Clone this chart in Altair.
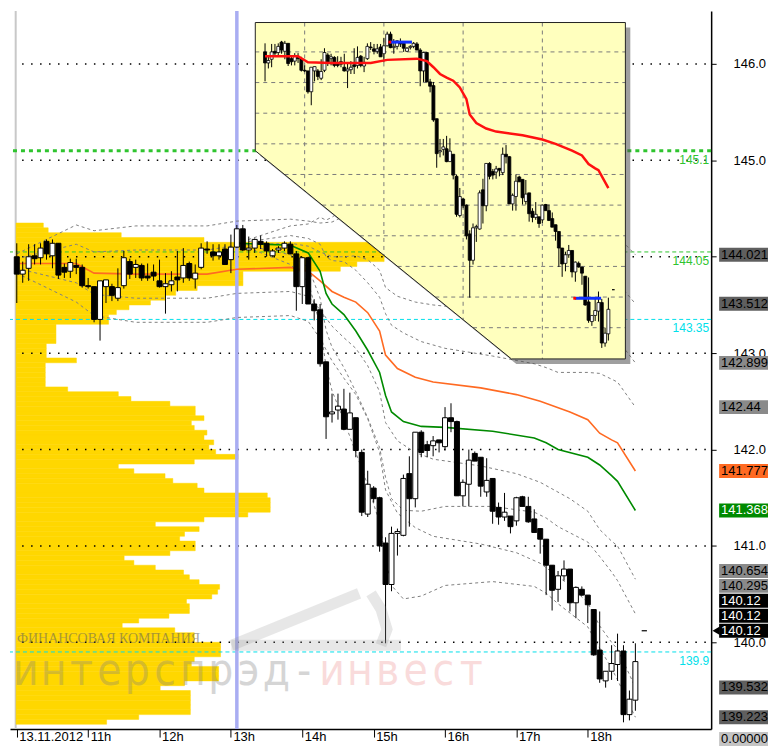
import altair as alt
import numpy as np
import pandas as pd

# ---------------- data ----------------
BAR_MINUTES = 5          # 5-minute candles starting 10:00

candle_open = [144.00,143.82,143.88,144.01,143.99,144.16,144.01,144.14,143.89,143.85,
               143.91,143.89,143.70,143.69,143.35,143.69,143.69,143.57,143.70,143.95,
               143.89,143.91,143.80,143.84,143.75,143.69,143.71,143.79,143.78,143.93,
               143.77,143.89,144.08,144.05,144.01,144.08,143.97,144.10,144.29,144.07,
               144.09,144.16,144.14,144.01,144.07,144.09,144.13,144.03,143.69,143.99,
               143.51,143.45,142.91,142.37,142.41,142.42,142.21,142.33,141.97,141.33,
               141.60,141.50,141.03,140.60,141.13,141.11,141.75,141.49,142.18,142.05,
               142.04,142.10,142.03,142.33,142.29,141.52,141.64,141.96,141.92,141.56,
               141.70,141.40,141.30,141.31,141.26,141.51,141.41,141.28,141.18,141.07,
               140.80,140.55,140.69,140.76,140.41,140.55,140.49,140.34,139.92,139.60,
               139.70,139.77,139.91,139.25,139.40]
candle_high = [144.14,143.95,144.13,144.13,144.14,144.18,144.18,144.14,143.93,143.98,
               143.98,143.92,143.78,143.69,143.75,143.76,143.72,143.88,144.06,143.98,
               143.97,143.93,143.93,143.92,143.97,143.83,143.85,144.06,144.09,143.95,
               143.92,144.14,144.16,144.13,144.13,144.13,144.23,144.33,144.33,144.21,
               144.19,144.22,144.16,144.08,144.11,144.16,144.16,144.06,144.00,144.00,
               143.56,143.51,142.91,142.58,142.58,142.63,142.59,142.33,142.00,141.78,
               141.62,141.51,141.09,141.20,141.18,141.74,141.93,142.18,142.20,142.09,
               142.14,142.10,142.44,142.48,142.30,141.69,142.00,141.98,141.92,141.91,
               141.70,141.45,141.55,141.31,141.51,141.52,141.51,141.38,141.18,141.07,
               140.80,140.74,140.85,140.76,140.58,140.58,140.49,140.34,140.32,139.70,
               139.97,140.09,139.97,139.50,139.99]
candle_low = [143.52,143.73,143.75,143.92,143.92,143.97,143.88,143.77,143.78,143.78,
              143.82,143.68,143.67,143.32,143.13,143.52,143.54,143.54,143.67,143.77,
              143.78,143.75,143.75,143.75,143.68,143.41,143.64,143.64,143.73,143.75,
              143.67,143.87,144.03,143.96,143.97,143.92,143.83,144.09,144.06,143.97,
              144.04,144.08,144.00,144.00,144.04,144.06,144.03,143.44,143.51,143.51,
              143.34,142.86,142.11,142.28,142.31,142.20,142.21,141.92,141.31,141.30,
              141.45,140.94,139.99,140.53,140.90,141.10,141.20,141.40,141.92,141.92,
              141.93,141.97,141.99,142.18,141.52,141.41,141.41,141.88,141.51,141.51,
              141.23,141.22,141.26,141.13,141.21,141.41,141.24,141.14,140.92,140.49,
              140.33,140.42,140.64,140.32,140.25,140.48,140.20,139.86,139.58,139.53,
              139.61,139.60,139.17,139.19,139.29]
candle_close = [143.82,143.86,144.00,143.98,144.09,144.03,144.14,143.81,143.84,143.94,
                143.89,143.70,143.69,143.35,143.75,143.76,143.60,143.68,143.99,143.82,
                143.92,143.78,143.78,143.80,143.69,143.72,143.75,143.76,143.91,143.78,
                143.83,144.09,144.07,144.01,144.05,143.92,144.10,144.29,144.07,144.09,
                144.18,144.13,144.06,144.06,144.09,144.14,144.03,143.69,143.99,143.51,
                143.44,142.89,142.34,142.39,142.45,142.21,142.38,141.99,141.35,141.64,
                141.49,141.00,140.60,141.13,141.15,141.70,141.49,142.18,141.97,141.99,
                142.09,142.07,142.33,142.29,141.52,141.66,141.89,141.88,141.62,141.68,
                141.36,141.30,141.35,141.20,141.50,141.41,141.25,141.14,141.07,140.80,
                140.54,140.69,140.76,140.41,140.57,140.49,140.39,139.87,139.62,139.70,
                139.78,139.91,139.25,139.41,139.80]

# day VWAP (orange) and VWAP from 13:05 (green), with their deviations
orange_idx = [0,10,13,20,32,37,46,49,51,53,55,57,59,61,62,64,67,70,78,84,88,93,96,98,100,101,104]
orange_val = [143.93,143.93,143.83,143.82,143.82,143.87,143.89,143.85,143.75,143.64,143.58,143.53,
              143.42,143.23,142.98,142.84,142.75,142.70,142.64,142.57,142.50,142.39,142.31,142.17,
              142.10,142.07,141.777]
orange_sd = [0.05,0.20,0.22,0.25,0.25,0.25,0.25,0.26,0.30,0.36,0.42,0.48,0.55,0.63,0.70,0.75,
             0.78,0.80,0.81,0.82,0.84,0.90,0.95,1.00,1.05,1.07,1.122]
green_idx = [37,46,49,51,52,53,55,57,59,61,62,63,65,68,72,80,87,89,91,96,98,100,101,104]
green_val = [144.14,144.12,144.04,143.85,143.62,143.51,143.40,143.23,143.03,142.80,142.56,142.39,
             142.29,142.24,142.23,142.19,142.12,142.07,142.00,141.92,141.84,141.73,141.67,141.368]
green_sd = [0.0,0.10,0.15,0.28,0.38,0.45,0.55,0.63,0.70,0.78,0.85,0.90,0.92,0.88,0.82,0.78,0.77,
            0.78,0.80,0.88,0.95,1.00,1.03,1.0725]

# volume profile: 0.05 price bins from 144.35 downwards
profile_top = 144.35
profile_step = 0.05
profile_volume = [28,33,108,193,378,383,383,378,350,333,
                  233,233,233,186,164,153,138,116,103,95,
                  95,41,41,41,41,31,31,31,62,30,
                  30,30,30,30,53,105,118,158,184,184,
                  193,180,183,196,193,203,198,205,228,183,
                  105,121,153,161,186,193,258,261,261,261,
                  238,193,143,188,173,168,184,184,158,111,
                  121,143,172,178,188,209,207,201,175,178,
                  178,157,126,109,163,183,183,210,210,210,
                  183,180,208,208,208,173,148,179,179,179,
                  179,179,126,93]

# horizontal levels
level_prices = [145.1, 144.05, 143.35, 139.9]
level_texts = ["145.1", "144.05", "143.35", "139.9"]
level_colors = ["#2fc42f", "#2fc42f", "#00e0ea", "#00e0ea"]

grid_prices = [140, 141, 142, 143, 144, 145, 146]
hidden_label = 144                 # covered by the 144.021 tag in the original
session_mark_minute = 185          # 13:05 vertical line
last_price = 140.12

# price tags at the right edge
tag_values = [144.021, 143.512, 142.899, 142.44, 141.777, 141.368, 140.654, 140.295,
              140.12, 140.12, 140.12, 139.532, 139.223, 0.0]
tag_texts = ["144.021", "143.512", "142.899", "142.44", "141.777", "141.368", "140.654",
             "140.295", "140.12", "140.12", "140.12", "139.532", "139.223", "0.00000"]
tag_bg = ["#5f5f5f", "#5f5f5f", "#8a8a8a", "#8a8a8a", "#ff6a22", "#008a00", "#8a8a8a",
          "#8a8a8a", "#000000", "#000000", "#000000", "#5f5f5f", "#5f5f5f", "#c4c4c4"]
tag_fg = ["black", "black", "black", "black", "black", "white", "black",
          "black", "white", "white", "white", "black", "black", "black"]

# inset (overview) panel markers
inset_hours = [11, 13, 15, 17]
inset_prices = [144.0, 143.5, 143.0, 142.5, 142.0, 141.5, 141.0, 140.5, 140.0, 139.5]
marker_from_bar = [37.8, 93.8]
marker_to_bar = [44.5, 101.8]
marker_price = [144.16, 139.98]

watermark_main = "интерспрэд-"
watermark_tail = "инвест"
watermark_small = "ФИНАНСОВАЯ КОМПАНИЯ"

# ---------------- layout / style ----------------
W, H = 703, 720
XMIN, XMAX = -1.5, 579.5
YMIN, YMAX = 139.1, 146.55
PXM = W / (XMAX - XMIN)
PXP = H / (YMAX - YMIN)
FONT = "Liberation Sans"
ORANGE = "#ff6a22"
GREEN = "#008a00"
YELLOW = "#ffd700"

# inset panel geometry in chart units (minutes, price)
P_LEFT, P_RIGHT, P_TOP = 200.5, 511.6, 146.43
P_DIAG_TOP, P_DIAG_X, P_BOTTOM = 145.10, 415.8, 142.94
# inset data -> chart units
IN_MX0, IN_MXK = 208.7, 0.555
IN_PY0, IN_PYK = 54.57, 0.6358

xs = alt.Scale(domain=[XMIN, XMAX], nice=False, zero=False)
ys = alt.Scale(domain=[YMIN, YMAX], nice=False, zero=False)

X_AXIS = alt.Axis(orient="bottom", values=list(range(0, 481, 60)),
                  labelExpr="datum.value == 0 ? '13.11.2012' : (10 + datum.value / 60) + 'h'",
                  tickSize=8, tickColor="black", domainColor="black", domainWidth=1.5,
                  labelAlign="left", labelBaseline="top", labelPadding=-7, labelOffset=2,
                  labelFont=FONT, labelFontSize=13, labelColor="black", grid=False,
                  labelFlush=False, labelOverlap=False, title=None)
Y_AXIS = alt.Axis(orient="right", values=grid_prices,
                  labelExpr=f"datum.value == {hidden_label} ? '' : format(datum.value, '.1f')",
                  tickSize=5, tickColor="black", domainColor="black", domainWidth=1.5,
                  labelPadding=17, labelFont=FONT, labelFontSize=13, labelColor="black",
                  grid=False, title=None)


def X(f):
    return alt.X(f, type="quantitative", scale=xs, axis=X_AXIS, title=None)


def Y(f):
    return alt.Y(f, type="quantitative", scale=ys, axis=Y_AXIS, title=None)


# ---------------- frames ----------------
n = len(candle_open)
cd = pd.DataFrame({"i": np.arange(n), "o": candle_open, "h": candle_high,
                   "l": candle_low, "c": candle_close})
cd["m"] = cd["i"] * BAR_MINUTES
cd["top"] = cd[["o", "c"]].max(axis=1)
cd["bot"] = cd[["o", "c"]].min(axis=1)
cd["dir"] = np.where(cd["c"] > cd["o"], "up", "down")

orange = pd.DataFrame({"m": np.array(orange_idx) * BAR_MINUTES, "v": orange_val, "sd": orange_sd})
green = pd.DataFrame({"m": np.array(green_idx) * BAR_MINUTES, "v": green_val, "sd": green_sd})

bands = []
for name, df in (("o", orange), ("g", green)):
    for k in (-2, -1, 1, 2):
        b = pd.DataFrame({"m": df["m"], "v": df["v"] + k * df["sd"]})
        b["band"] = f"{name}{k}"
        bands.append(b)
bands = pd.concat(bands, ignore_index=True)

kk = np.arange(len(profile_volume))
prof = pd.DataFrame({"t": profile_top - kk * profile_step,
                     "b": profile_top - (kk + 1) * profile_step,
                     "x0": -0.6,
                     "x1": -0.6 + np.array(profile_volume) / 1.2217})

levels = pd.DataFrame({"p": level_prices, "t": level_texts, "c": level_colors})
grid = pd.DataFrame({"p": grid_prices, "x0": 4.5, "x1": XMAX})

# price tags stacked from the bottom upwards
tg = pd.DataFrame({"v": tag_values, "t": tag_texts, "bg": tag_bg, "fg": tag_fg})
tg["py"] = np.minimum((YMAX - tg["v"]) * PXP, H + 10)
order = sorted(range(len(tg)), key=lambda r: (tg["v"][r], -r))
prev = 1e9
ypos = {}
for r in order:
    yv = min(tg["py"][r], prev - 15)
    ypos[r] = yv
    prev = yv
tg["y"] = [ypos[r] for r in range(len(tg))]
tg["y0"] = tg["y"] - 7
tg["y1"] = tg["y"] + 7
arrow = tg[(tg["v"] == last_price) & (abs(tg["y"] - tg["py"]) < 0.5)]


# inset frames
def im(m):
    return IN_MX0 + IN_MXK * np.asarray(m, dtype=float)


def ip(p):
    return IN_PY0 + IN_PYK * np.asarray(p, dtype=float)


icd = pd.DataFrame({"m": im(cd["m"]), "h": ip(cd["h"]), "l": ip(cd["l"]),
                    "top": ip(cd["top"]), "bot": ip(cd["bot"]), "dir": cd["dir"]})
ired = pd.DataFrame({"m": im(orange["m"]), "v": ip(orange["v"])})


def diag_bottom(m):
    if m >= P_DIAG_X:
        return P_BOTTOM
    return P_DIAG_TOP + (m - P_LEFT) / (P_DIAG_X - P_LEFT) * (P_BOTTOM - P_DIAG_TOP)


def diag_left(p):
    if p >= P_DIAG_TOP:
        return P_LEFT
    return P_LEFT + (P_DIAG_TOP - p) / (P_DIAG_TOP - P_BOTTOM) * (P_DIAG_X - P_LEFT)


panel = pd.DataFrame({"m": [P_LEFT, P_DIAG_X, P_RIGHT], "t": [P_TOP] * 3,
                      "b": [P_DIAG_TOP, P_BOTTOM, P_BOTTOM]})
sdx, sdy = 5 / PXM, 5 / PXP
shadow = panel.assign(m=panel["m"] + sdx, t=panel["t"] - sdy, b=panel["b"] - sdy)
border = pd.DataFrame({"m": [P_LEFT, P_RIGHT, P_RIGHT, P_DIAG_X, P_LEFT, P_LEFT],
                       "p": [P_TOP, P_TOP, P_BOTTOM, P_BOTTOM, P_DIAG_TOP, P_TOP],
                       "o": range(6)})
vgrid = pd.DataFrame({"m": im([(h - 10) * 60 for h in inset_hours])})
vgrid["t"] = P_TOP
vgrid["b"] = [diag_bottom(m) for m in vgrid["m"]]
hgrid = pd.DataFrame({"p": ip(inset_prices)})
hgrid["x0"] = [diag_left(p) for p in hgrid["p"]]
hgrid["x1"] = P_RIGHT
imark = pd.DataFrame({"x0": im(np.array(marker_from_bar) * BAR_MINUTES),
                      "x1": im(np.array(marker_to_bar) * BAR_MINUTES),
                      "p": ip(marker_price)})
last_m = (n + 0.5) * BAR_MINUTES
lastp = pd.DataFrame({"x0": [last_m - 2.2, im(last_m - 2.0)],
                      "x1": [last_m + 2.2, im(last_m + 2.0)],
                      "p": [last_price, float(ip(last_price))]})

letters = list(watermark_main) + list(watermark_tail)
wm = pd.DataFrame({"ch": letters,
                   "x": [16 + k * 27.9 for k in range(len(letters))],
                   "col": ["#808080"] * len(watermark_main) + ["#e03030"] * len(watermark_tail),
                   "op": [0.32] * len(watermark_main) + [0.17] * len(watermark_tail)})

# faint logo strokes of the watermark (pixel geometry, decorative)
logo = pd.DataFrame({"x": [222, 350, 362, 372, 378, 372, 222, 392],
                     "y": [636, 584, 584, 600, 620, 636, 636, 636],
                     "s": ["a", "a", "b", "b", "b", "b", "c", "c"],
                     "o": [0, 1, 0, 1, 2, 3, 0, 1]})

# ---------------- layers ----------------
layers = []
layers.append(alt.Chart(pd.DataFrame({"m": [-0.9]})).mark_rule(color="#c8c8c8", strokeWidth=2)
              .encode(x=X("m:Q")))
layers.append(alt.Chart(prof).mark_rect(color=YELLOW, stroke=YELLOW, strokeWidth=0.5)
              .encode(x=X("x0"), x2="x1", y=Y("t"), y2="b"))
layers.append(alt.Chart(grid).mark_rule(color="black", strokeWidth=1.5, strokeDash=[1.5, 7.5])
              .encode(x=X("x0"), x2="x1", y=Y("p")))
for lp, lc, sw, dash in zip(level_prices, level_colors, [3, 1, 1, 1],
                            [[4, 4], [4, 3], [4, 3], [4, 3]]):
    layers.append(alt.Chart(pd.DataFrame({"p": [lp]}))
                  .mark_rule(color=lc, strokeWidth=sw, strokeDash=dash).encode(y=Y("p")))
layers.append(alt.Chart(levels).mark_text(align="right", baseline="middle", dy=9,
                                          font=FONT, fontSize=12)
              .encode(y=Y("p"), x=alt.value(W - 2), text="t:N",
                      color=alt.Color("c:N", scale=None)))
layers.append(alt.Chart(pd.DataFrame({"m": [session_mark_minute]}))
              .mark_rule(color="#a9adf2", strokeWidth=3.5).encode(x=X("m")))
layers.append(alt.Chart(bands).mark_line(color="#808080", strokeWidth=1, strokeDash=[3, 3], clip=True)
              .encode(x=X("m"), y=Y("v"), detail="band:N"))
layers.append(alt.Chart(orange).mark_line(color=ORANGE, strokeWidth=1.6, clip=True)
              .encode(x=X("m"), y=Y("v")))
layers.append(alt.Chart(green).mark_line(color=GREEN, strokeWidth=1.6, clip=True)
              .encode(x=X("m"), y=Y("v")))
layers.append(alt.Chart(cd).mark_rule(color="black", strokeWidth=1)
              .encode(x=X("m"), y=Y("l"), y2="h"))
layers.append(alt.Chart(cd).mark_bar(size=5, stroke="black", strokeWidth=1)
              .encode(x=X("m"), y=Y("bot"), y2="top",
                      fill=alt.Fill("dir:N", scale=alt.Scale(domain=["up", "down"],
                                                             range=["white", "black"]), legend=None)))
layers.append(alt.Chart(lastp.iloc[[0]]).mark_rule(color="black", strokeWidth=1.2)
              .encode(x=X("x0"), x2="x1", y=Y("p")))

# inset panel
layers.append(alt.Chart(shadow).mark_area(color="#505050", opacity=0.55)
              .encode(x=X("m"), y=Y("t"), y2="b"))
layers.append(alt.Chart(panel).mark_area(color="#ffffbe", opacity=1)
              .encode(x=X("m"), y=Y("t"), y2="b"))
layers.append(alt.Chart(vgrid).mark_rule(color="#7a7a7a", strokeWidth=1, strokeDash=[4, 4])
              .encode(x=X("m"), y=Y("t"), y2="b"))
layers.append(alt.Chart(hgrid).mark_rule(color="#7a7a7a", strokeWidth=1, strokeDash=[4, 4])
              .encode(x=X("x0"), x2="x1", y=Y("p")))
layers.append(alt.Chart(border).mark_line(color="#222222", strokeWidth=1)
              .encode(x=X("m"), y=Y("p"), order="o:Q"))
layers.append(alt.Chart(icd).mark_rule(color="black", strokeWidth=1)
              .encode(x=X("m"), y=Y("l"), y2="h"))
layers.append(alt.Chart(icd).mark_bar(size=3, stroke="black", strokeWidth=0.8)
              .encode(x=X("m"), y=Y("bot"), y2="top",
                      fill=alt.Fill("dir:N", scale=alt.Scale(domain=["up", "down"],
                                                             range=["white", "black"]), legend=None)))
layers.append(alt.Chart(ired).mark_line(color="#ff1010", strokeWidth=2.5)
              .encode(x=X("m"), y=Y("v")))
layers.append(alt.Chart(imark).mark_rule(color="#1030ff", strokeWidth=3)
              .encode(x=X("x0"), x2="x1", y=Y("p")))
layers.append(alt.Chart(imark).mark_point(shape="square", filled=True, size=8, color="#ff0000", opacity=1)
              .encode(x=X("x0"), y=Y("p")))
layers.append(alt.Chart(lastp.iloc[[1]]).mark_rule(color="black", strokeWidth=1.2)
              .encode(x=X("x0"), x2="x1", y=Y("p")))

# watermark
layers.append(alt.Chart(logo).mark_line(color="#909090", opacity=0.22, strokeWidth=11,
                                        strokeCap="butt")
              .encode(x=alt.X("x:Q", scale=None), y=alt.Y("y:Q", scale=None),
                      detail="s:N", order="o:Q"))
layers.append(alt.Chart(wm).mark_text(font="DejaVu Sans Condensed, Liberation Sans Narrow, DejaVu Sans",
                                      fontSize=44, align="center", baseline="alphabetic")
              .encode(x=alt.X("x:Q", scale=None), y=alt.value(676), text="ch:N",
                      color=alt.Color("col:N", scale=None), opacity=alt.Opacity("op:Q", scale=None)))
layers.append(alt.Chart(pd.DataFrame({"t": [watermark_small]}))
              .mark_text(font="Liberation Serif", fontSize=14, align="left", baseline="alphabetic",
                         color="#606060", opacity=0.55)
              .encode(x=alt.value(7), y=alt.value(634), text="t:N"))

# right price tags
layers.append(alt.Chart(tg).mark_rect()
              .encode(x=alt.value(W + 8), x2=alt.value(W + 57),
                      y=alt.Y("y0:Q", scale=None), y2="y1:Q", fill=alt.Fill("bg:N", scale=None)))
layers.append(alt.Chart(tg).mark_text(align="left", baseline="middle", font=FONT, fontSize=13)
              .encode(x=alt.value(W + 10), y=alt.Y("y:Q", scale=None), text="t:N",
                      color=alt.Color("fg:N", scale=None)))
layers.append(alt.Chart(arrow).mark_point(shape="triangle-left", filled=True, size=70,
                                          color="black", opacity=1)
              .encode(x=alt.value(W + 5), y=alt.Y("y:Q", scale=None)))

chart = (alt.layer(*layers)
         .properties(width=W, height=H, padding={"left": 0, "top": 0, "right": 0, "bottom": 0})
         .configure(background="white")
         .configure_view(strokeWidth=0, stroke="transparent", strokeOpacity=0))

chart.save("out.html", embed_options={"renderer": "svg", "actions": False})
